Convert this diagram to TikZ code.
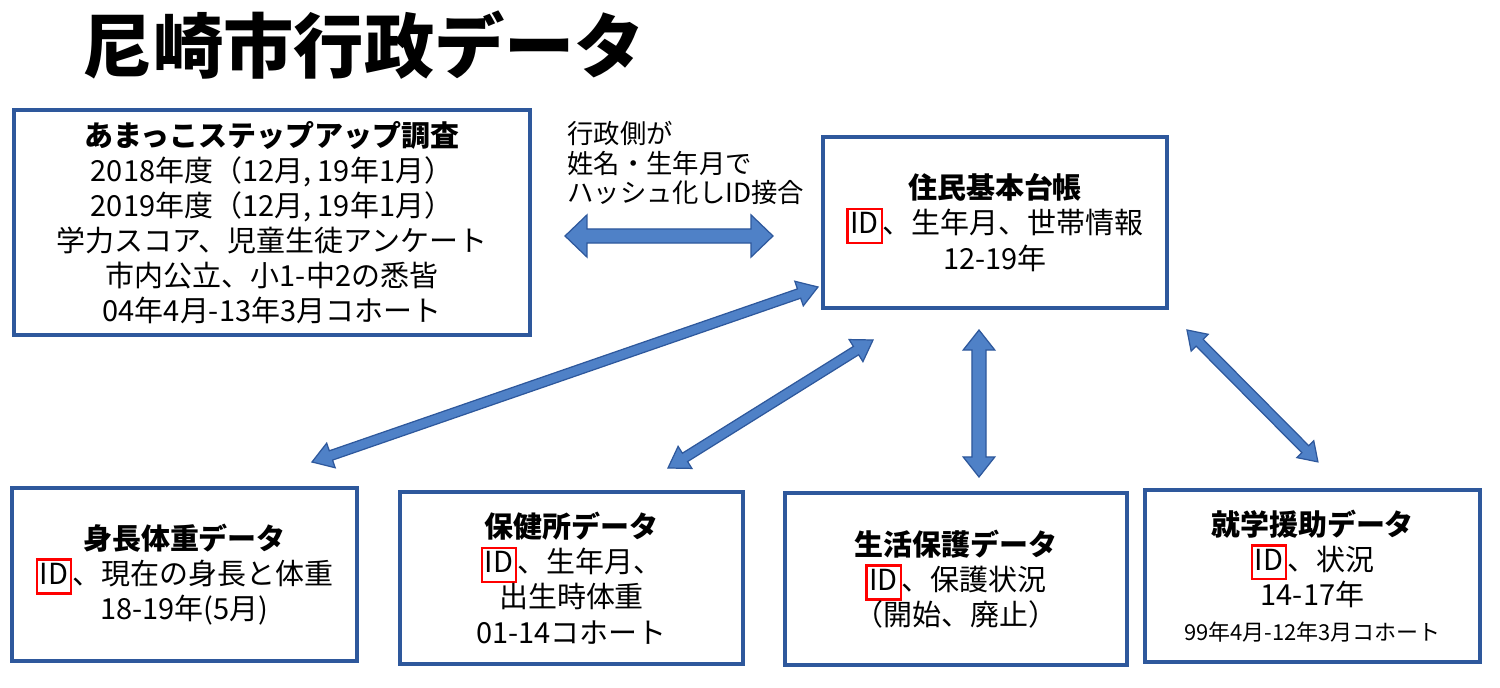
\documentclass[tikz,border=0pt]{standalone}
\usepackage{fontspec}
\setmainfont{Noto Sans CJK JP}
\usetikzlibrary{calc}
\definecolor{boxblue}{RGB}{46,88,156}
\definecolor{arrfill}{RGB}{79,129,199}
\newcommand\idbox{{\setlength\fboxsep{1pt}\setlength\fboxrule{1.3pt}\fcolorbox{red}{white}{\rule[-3.5pt]{0pt}{16pt}ID}}}
\newcommand\blockarrow[5]{%
  \path[arrowstyle] let \p1=(#1), \p2=(#2),
    \n1={atan2(\y2-\y1,\x2-\x1)}, \n2={veclen(\x2-\x1,\y2-\y1)} in
    [shift={(\p1)}, rotate=\n1]
    (0pt,0pt) -- (#5pt,#4pt) -- (#5pt,#3pt) -- (\n2-#5pt,#3pt) -- (\n2-#5pt,#4pt)
    -- (\n2,0pt) -- (\n2-#5pt,-#4pt) -- (\n2-#5pt,-#3pt) -- (#5pt,-#3pt) -- (#5pt,-#4pt) -- cycle;}
\tikzset{
  databox/.style={draw=boxblue, line width=2pt, fill=white, align=center,
    font=\fontsize{16.5}{20}\selectfont, inner sep=0pt},
  arrowstyle/.style={fill=arrfill, draw=boxblue, line width=0.7pt, line join=miter},
  note/.style={align=left, font=\fontsize{15}{17}\selectfont, inner sep=0pt}
}
\begin{document}
\begin{tikzpicture}[x=0.02cm, y=-0.02cm]
\fill[white] (0,0) rectangle (1500,688);
\useasboundingbox (0,0) rectangle (1500,688);

\node[font=\fontsize{40}{48}\selectfont\bfseries, inner sep=0pt] (title) at (364,45) {尼崎市行政データ};

\node[databox, minimum width=10.32cm, minimum height=4.5cm] (survey) at (272,222.5)
  {\textbf{あまっこステップアップ調査}\\
   2018年度（12月, 19年1月）\\
   2019年度（12月, 19年1月）\\
   学力スコア、児童生徒アンケート\\
   市内公立、小1-中2の悉皆\\
   04年4月-13年3月コホート};

\node[databox, minimum width=6.88cm, minimum height=3.42cm] (resident) at (995,222.5)
  {\textbf{住民基本台帳}\\
   \idbox、生年月、世帯情報\\
   12-19年};

\node[note, anchor=west] (label) at (567,163)
  {行政側が\\姓名・生年月で\\ハッシュ化しID接合};

\node[databox, minimum width=6.9cm, minimum height=3.46cm] (body) at (184.5,574.5)
  {\textbf{身長体重データ}\\
   \idbox、現在の身長と体重\\
   18-19年(5月)};

\node[databox, minimum width=6.86cm, minimum height=3.44cm] (health) at (571.5,578)
  {\textbf{保健所データ}\\
   \idbox、生年月、\\
   出生時体重\\
   01-14コホート};

\node[databox, minimum width=6.84cm, minimum height=3.44cm] (welfare) at (956,579)
  {\textbf{生活保護データ}\\
   \idbox、保護状況\\
   （開始、廃止）};

\node[databox, minimum width=6.7cm, minimum height=3.44cm] (school) at (1312.5,576)
  {\textbf{就学援助データ}\\
   \idbox、状況\\
   14-17年\\
   {\fontsize{12.5}{16}\selectfont 99年4月-12年3月コホート}};

\coordinate (h1) at (565,236);  \coordinate (h2) at (773,236);
\coordinate (a1s) at (312,462); \coordinate (a1e) at (818,287);
\coordinate (a2s) at (668,468); \coordinate (a2e) at (873,340);
\coordinate (a3s) at (979,330); \coordinate (a3e) at (979,477);
\coordinate (a4s) at (1187,330); \coordinate (a4e) at (1318,462);

\blockarrow{h1}{h2}{4}{12}{12.5}
\blockarrow{a1s}{a1e}{2.8}{7.4}{11.4}
\blockarrow{a2s}{a2e}{2.8}{7.4}{11.4}
\blockarrow{a3s}{a3e}{4}{9}{11.4}
\blockarrow{a4s}{a4e}{2.8}{6.8}{10.2}
\end{tikzpicture}
\end{document}
